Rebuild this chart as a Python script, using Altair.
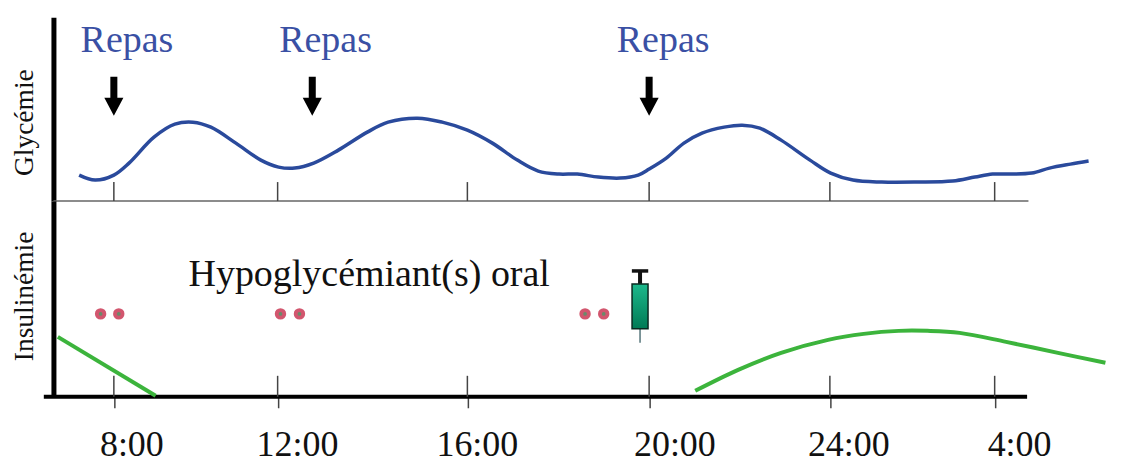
import altair as alt
import pandas as pd

FONT = "Liberation Serif"

# clock positions (hours since midnight; 28 = 4:00 next day)
tick_hours = [8, 12, 16, 20, 24, 28]
tick_labels = ["8:00", "12:00", "16:00", "20:00", "24:00", "4:00"]
tick_label_hours = [8.44, 12.42, 16.22, 20.57, 24.46, 28.63]
tick_label_level = [-48, -48, -48, -48, -48, -48]
scale_domain = [6.52, 8, 12, 16, 20, 24, 28, 30.8]
scale_range = [0, 60.5, 224.5, 414.5, 596.5, 777.5, 942.5, 1058]

gly_hours = [7.15, 7.54, 8.0, 8.37, 8.98, 9.49, 9.93, 10.37, 10.98, 11.59, 12.02, 12.36, 12.76, 13.28,
             13.89, 14.33, 14.95, 15.47, 16.0, 16.55, 17.10, 17.56, 18.02, 18.42, 18.88, 19.36, 19.76,
             20.0, 20.38, 20.77, 21.17, 21.66, 22.06, 22.45, 22.92, 23.56, 24.02, 24.56, 25.26, 26.11,
             26.98, 27.52, 27.95, 28.39, 28.90, 29.33, 29.84, 30.28]
gly_level = [26, 21, 26, 38, 64, 77, 79, 74, 58, 41, 34, 33, 38, 51, 69, 79, 83, 79, 71, 58, 41, 30, 27, 27,
             24, 23, 26, 32, 43, 58, 68, 74, 76, 73, 61, 41, 28, 21, 19, 19, 20, 24, 27, 27, 28, 33, 37, 40]

meal_hours = [8.0, 12.73, 20.0]
meal_level = [105, 105, 105]
meal_label_hours = [8.32, 13.01, 20.31]
meal_label_level = [160, 160, 160]
meal_labels = ["Repas", "Repas", "Repas"]

ins_a_hours = [6.52, 9.02]
ins_a_level = [60, 1]
ins_b_hours = [21.02, 21.97, 22.92, 23.96, 24.82, 25.67, 26.37, 27.15, 28.29, 29.60, 30.8]
ins_b_level = [6, 27, 44, 57, 63, 66, 66, 64, 55, 44, 34]

pill_hours = [7.65, 8.12, 12.06, 12.46, 18.59, 19.0]
pill_level = [83, 83, 83, 83, 83, 83]

oral_label = ["Hypoglycémiant(s) oral"]
oral_hour = [13.93]
oral_level = [122]

syringe_hour = [19.8]
syringe_body = [68, 113]
syringe_stem = [113, 126]
syringe_cap = [19.62, 19.98]
syringe_cap_level = [126]
syringe_needle = [54, 68]

base_hours = [6.52, 28.82]
thick_hours = [6.15, 28.82]
level_zero = [0]
upper_tick_top = [19]
lower_tick_top = [21]

ARROW = "M-.18,-1 L.18,-1 L.18,.08 L.49,.08 L0,1 L-.49,.08 L-.18,.08 Z"

xscale = alt.Scale(domain=scale_domain, range=scale_range)
yscale_top = alt.Scale(domain=[0, 184], nice=False)
yscale_bot = alt.Scale(domain=[0, 196], nice=False)


def y_axis(title, title_y):
    return alt.Axis(title=title, ticks=False, labels=False, grid=False, domainColor="#000000", domainWidth=5,
                    titleFont=FONT, titleFontSize=27.5, titleFontWeight="normal", titleColor="#111111",
                    titleY=title_y, titlePadding=14.5)


x_axis = alt.Axis(values=tick_hours, grid=False, domain=False, labels=False, tickColor="#444444", tickWidth=1.5,
                  tickSize=11)
top_x = alt.X("h:Q", scale=xscale, axis=None, title=None)
bot_x = alt.X("h:Q", scale=xscale, axis=x_axis, title=None)
top_y = alt.Y("v:Q", scale=yscale_top, axis=y_axis("Glycémie", 105))
bot_y = alt.Y("v:Q", scale=yscale_bot, axis=y_axis("Insulinémie", 95))

# ---------- upper panel
top_base = alt.Chart(pd.DataFrame({"h": base_hours, "v": level_zero * 2})).mark_line(
    color="#666666", strokeWidth=1.5
).encode(x=top_x, y=top_y)

top_ticks = alt.Chart(pd.DataFrame({"h": tick_hours, "v": level_zero * 6, "v2": upper_tick_top * 6})).mark_rule(
    color="#444444", strokeWidth=1.5
).encode(x=top_x, y=top_y, y2="v2:Q")

top_curve = alt.Chart(pd.DataFrame({"h": gly_hours, "v": gly_level})).mark_line(
    color="#2A4A9C", strokeWidth=3.5, interpolate="catmull-rom"
).encode(x=top_x, y=top_y)

top_arrows = alt.Chart(pd.DataFrame({"h": meal_hours, "v": meal_level})).mark_point(
    shape=ARROW, size=1521, filled=True, color="#000000", opacity=1
).encode(x=top_x, y=top_y)

top_text = alt.Chart(pd.DataFrame({"h": meal_label_hours, "v": meal_label_level, "t": meal_labels})).mark_text(
    font=FONT, fontSize=38, color="#3A50A4", baseline="middle", align="center"
).encode(x=top_x, y=top_y, text="t:N")

top = alt.layer(top_base, top_ticks, top_curve, top_arrows, top_text).properties(width=1058, height=184)

# ---------- lower panel
bot_base = alt.Chart(pd.DataFrame({"h": thick_hours, "v": level_zero * 2})).mark_line(
    color="#000000", strokeWidth=4
).encode(x=bot_x, y=bot_y)

bot_ticks = alt.Chart(pd.DataFrame({"h": tick_hours, "v": level_zero * 6, "v2": lower_tick_top * 6})).mark_rule(
    color="#444444", strokeWidth=1.5
).encode(x=bot_x, y=bot_y, y2="v2:Q")

bot_a = alt.Chart(pd.DataFrame({"h": ins_a_hours, "v": ins_a_level})).mark_line(
    color="#3CB43C", strokeWidth=4
).encode(x=bot_x, y=bot_y)

bot_b = alt.Chart(pd.DataFrame({"h": ins_b_hours, "v": ins_b_level})).mark_line(
    color="#3CB43C", strokeWidth=4, interpolate="catmull-rom"
).encode(x=bot_x, y=bot_y)

pills_outer = alt.Chart(pd.DataFrame({"h": pill_hours, "v": pill_level})).mark_point(
    shape="circle", size=130, filled=True, color="#D2566E", opacity=1
).encode(x=bot_x, y=bot_y)

pills_inner = alt.Chart(pd.DataFrame({"h": pill_hours, "v": pill_level})).mark_point(
    shape="circle", size=14, filled=True, color="#6A8A6A", opacity=1
).encode(x=bot_x, y=bot_y)

oral = alt.Chart(pd.DataFrame({"h": oral_hour, "v": oral_level, "t": oral_label})).mark_text(
    font=FONT, fontSize=38, color="#111111", baseline="middle", align="center"
).encode(x=bot_x, y=bot_y, text="t:N")

hour_text = alt.Chart(pd.DataFrame({"h": tick_label_hours, "v": tick_label_level, "t": tick_labels})).mark_text(
    font=FONT, fontSize=36, color="#111111", baseline="middle", align="center"
).encode(x=bot_x, y=bot_y, text="t:N")

needle = alt.Chart(pd.DataFrame({"h": syringe_hour, "v": [syringe_needle[0]], "v2": [syringe_needle[1]]})).mark_rule(
    color="#55757A", strokeWidth=1.5
).encode(x=bot_x, y=bot_y, y2="v2:Q")

stem = alt.Chart(pd.DataFrame({"h": syringe_hour, "v": [syringe_stem[0]], "v2": [syringe_stem[1]]})).mark_rule(
    color="#111111", strokeWidth=4
).encode(x=bot_x, y=bot_y, y2="v2:Q")

cap = alt.Chart(pd.DataFrame({"h": [syringe_cap[0]], "h2": [syringe_cap[1]], "v": syringe_cap_level})).mark_rule(
    color="#111111", strokeWidth=3.5
).encode(x=bot_x, x2="h2:Q", y=bot_y)

body = alt.Chart(pd.DataFrame({"h": syringe_hour, "v": [syringe_body[0]], "v2": [syringe_body[1]]})).mark_bar(
    size=16, stroke="#0A2A20", strokeWidth=1.5,
    color=alt.Gradient(gradient="linear", x1=0, x2=0, y1=0, y2=1,
                       stops=[alt.GradientStop(offset=0, color="#1DB98C"),
                              alt.GradientStop(offset=1, color="#007A55")])
).encode(x=bot_x, y=bot_y, y2="v2:Q")

bot = alt.layer(bot_base, bot_ticks, bot_a, bot_b, pills_outer, pills_inner, oral, hour_text, needle, stem, cap,
                body).properties(width=1058, height=196)

chart = alt.vconcat(top, bot, spacing=0, bounds="flush").properties(
    padding={"left": 2.5, "top": 9, "right": 0, "bottom": 0}
).configure_view(stroke=None).configure_concat(spacing=0)

chart.save("out.html", embed_options={"renderer": "svg", "actions": False})
